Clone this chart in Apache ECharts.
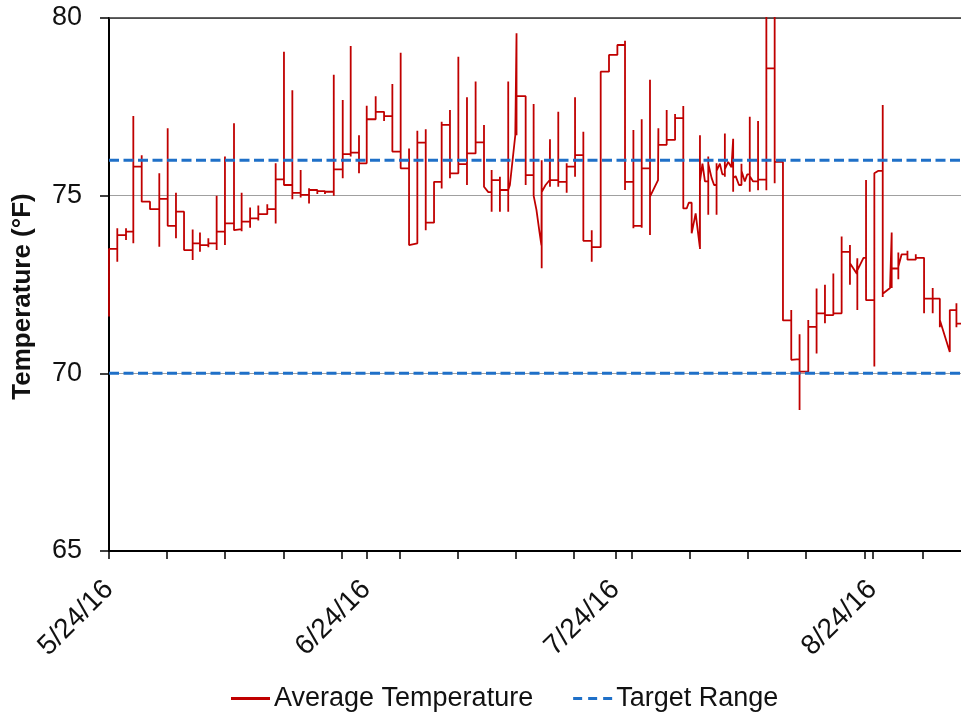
<!DOCTYPE html>
<html><head><meta charset="utf-8">
<script src="https://cdn.jsdelivr.net/npm/echarts@6/dist/echarts.min.js"></script>
<style>html,body{margin:0;padding:0;background:#fff}#c{width:961px;height:719px}</style>
</head><body><div id="c"></div>
<script>
// ---- data (x = days since 5/24/16) ----
const startDate = [2016, 5, 24];
const xMaxDay = 102.65;
const yMin = 65, yMax = 80, yStep = 5;
const weeklyTickDays = [0, 7, 14, 21, 28, 35, 42, 49, 56, 63, 70, 77, 84, 91, 98];
const monthTickDays = [0, 31, 61, 92];
const targetLow = 70, targetHigh = 76;

// rows: [day, spikeHigh, spikeLow, newLevel]  or  [day, value] (plain vertex)
const stepsMay = [
  [0, null, 71.6, 73.5], [1.0, 74.08, 73.14, 73.89], [2.05, 74.08, 73.75, 73.99],
  [2.93, 77.24, 73.66, 75.82], [3.94, 76.14, 74.83, 74.83], [4.94, null, null, 74.62],
  [6.06, 75.63, 73.56, 74.91], [7.07, 76.9, 74.15, 74.15]
];
const stepsJun = [
  [8.07, 75.08, 73.8, 74.55], [9.04, null, null, 73.47], [10.08, 74.05, 73.19, 73.66],
  [10.96, 73.96, 73.42, 73.61], [11.97, 73.8, 73.55, 73.66], [12.97, 75.0, 73.47, 73.99],
  [13.97, 76.1, 73.61, 74.22], [15.06, 77.04, 74.03, 74.06], [15.98, 75.08, 74.0, 74.27],
  [17.0, 74.67, 74.1, 74.36], [17.99, 74.72, 74.3, 74.48], [19.07, 74.76, 74.5, 74.62],
  [20.08, 75.91, 74.22, 75.46], [21.08, 79.05, 75.3, 75.3], [22.09, 77.97, 74.9, 75.08],
  [23.09, 75.72, 74.95, 75.02], [24.1, 75.21, 74.78, 75.16], [25.1, 75.2, 75.05, 75.13],
  [26.02, 75.15, 75.05, 75.11], [27.08, 78.4, 75.0, 75.74], [28.16, 77.69, 75.49, 76.17],
  [29.12, 79.21, 76.1, 76.21], [30.12, 76.7, 75.63, 75.91], [31.05, 77.53, 75.91, 77.15],
  [32.13, 77.8, 77.15, 77.36], [33.14, 77.4, 77.1, 77.24], [34.14, 78.14, 76.24, 76.24],
  [35.14, 79.02, 75.77, 75.77], [36.15, 76.33, 73.61, 73.66], [37.15, 76.83, 73.66, 76.49]
];
const stepsJul = [
  [38.16, 76.87, 74.03, 74.24], [39.16, null, null, 75.39], [40.08, 77.08, 75.2, 76.99],
  [41.08, 77.41, 75.49, 75.63], [42.09, 78.91, 75.63, 75.89], [43.13, 77.77, 75.3, 76.19],
  [44.17, 78.21, 76.19, 76.5], [45.18, 76.99, 75.25, 75.25], [45.7, 75.1],
  [46.1, 75.72, 74.55, 75.44], [47.1, 75.53, 74.55, 75.16],
  [48.1, 78.21, 74.55, 75.16], [48.3, 75.3], [48.95, 76.7],
  [49.1, 79.57, 76.7, 77.8], [50.2, null, 75.3, 75.58],
  [51.16, 77.58, 75.3, 75.0], [51.5, 74.6], [51.85, 74.0], [52.1, 73.6],
  [52.13, 76.0, 72.96, 75.1], [52.6, 75.3], [53.1, 75.44],
  [53.13, 76.59, 75.25, 75.44], [54.13, 77.36, 75.25, 75.39], [55.14, 75.91, 75.08, 75.82],
  [56.15, 77.77, 75.53, 76.14], [57.15, 76.8, null, 73.73], [58.16, 74.03, 73.14, 73.55],
  [59.24, 78.49, null, 78.49], [60.24, null, null, 78.96], [61.25, null, null, 79.24],
  [62.17, 79.36, 75.16, 75.39], [63.18, 76.85, 74.08, 74.15], [64.18, 77.15, 74.1, 75.77],
  [65.18, 78.26, 73.89, 74.97], [66.15, 75.44],
  [66.19, 76.9, null, 76.43], [67.19, 77.41, null, 76.57], [68.2, 77.3, null, 77.18]
];
const stepsAug = [
  [69.19, 77.52, null, 74.64], [69.6, 74.64], [69.85, 74.8],
  [70.2, 74.8, null, 73.94], [70.68, 74.5], [71.18, 73.56],
  [71.2, 76.7, 73.5, 75.4], [71.5, 75.9], [71.8, 75.4],
  [72.2, 76.1, 74.46, 75.9], [72.6, 75.5], [72.9, 75.3],
  [73.2, 75.91, 74.46, 75.7], [73.6, 75.9], [73.9, 75.6],
  [74.2, 76.75, 75.53, 75.75], [74.6, 75.95], [75.0, 75.8],
  [75.2, 76.6, 75.11, 75.5], [75.5, 75.55], [75.9, 75.3],
  [76.2, 75.9, 75.3, 75.7], [76.6, 75.4], [76.9, 75.6],
  [77.2, 77.22, 75.11, 75.55], [77.6, 75.4],
  [78.2, 77.1, 75.15, 75.45], [79.2, 81, 75.15, 78.58], [80.2, 81, 75.35, 75.95],
  [81.2, null, null, 71.49], [82.2, 71.78, 70.38, 70.4], [83.2, 71.1, 68.97, 70.05],
  [84.25, 71.5, 70.56, 71.31], [85.25, 72.39, 70.56, 71.69], [86.26, 72.49, 71.41, 71.64],
  [87.27, 72.81, null, 71.69], [88.27, 73.85, null, 73.42],
  [89.27, 73.61, 72.49, 73.1], [90.1, 72.8],
  [90.16, 73.24, 71.78, 72.9], [90.9, 73.25],
  [91.21, 75.44, 72.06, 72.06], [92.21, 75.63, 70.19, 75.63], [92.7, 75.7],
  [93.22, 77.55, 72.15, 72.24], [94.1, 72.4],
  [94.3, 73.96, 72.4, 72.95], [95.1, 73.4, 72.65, 73.0], [95.5, 73.35],
  [96.2, 73.45, null, 73.2], [97.2, 73.35, null, 73.25],
  [98.2, null, 71.69, 72.1], [99.24, 72.4, 71.69, 72.1],
  [100.1, null, 71.3, 71.5], [101.3, 70.6],
  [101.3, 71.78, null, 71.78], [102.1, 71.97, 71.3, 71.4], [102.8, 71.4]
];

// ---- build the polyline from the rows ----
function buildPath(rows) {
  const pts = []; let last = null;
  rows.forEach(r => {
    if (r.length === 2) { pts.push([r[0], r[1]]); last = r[1]; return; }
    const [d, hi, lo, lv] = r;
    if (last !== null) pts.push([d, last]);
    if (hi !== null) pts.push([d, hi]);
    if (lo !== null) pts.push([d, lo]);
    pts.push([d, lv]); last = lv;
  });
  return pts;
}
const tempPoints = buildPath([].concat(stepsMay, stepsJun, stepsJul, stepsAug));

function dayLabel(d) {
  const dt = new Date(startDate[0], startDate[1] - 1, startDate[2] + Math.round(d));
  return (dt.getMonth() + 1) + '/' + dt.getDate() + '/' + String(dt.getFullYear()).slice(2);
}

const FONT = '"Liberation Sans", Arial, sans-serif';
const RED = '#c00000', BLUE = '#1f70c8';
const chart = echarts.init(document.getElementById('c'), null, {renderer: 'canvas'});
chart.setOption({
  animation: false,
  backgroundColor: '#fff',
  grid: {left: 109, right: 0, top: 18, bottom: 168, outerBoundsMode: 'none', containLabel: false},
  xAxis: [{
    type: 'value', min: 0, max: xMaxDay,
    axisLine: {show: true, onZero: false, lineStyle: {color: '#000', width: 2}},
    axisTick: {show: true, customValues: weeklyTickDays.concat(monthTickDays), length: 8, lineStyle: {color: '#000', width: 1.5}},
    axisLabel: {customValues: monthTickDays, formatter: v => dayLabel(v), rotate: 45, fontSize: 28, color: '#111', fontFamily: FONT, margin: 34},
    splitLine: {show: false}
  }, {
    type: 'value', position: 'top', min: 0, max: xMaxDay,
    axisLine: {show: true, onZero: false, lineStyle: {color: '#333', width: 1.5}},
    axisTick: {show: false}, axisLabel: {show: false}, splitLine: {show: false}
  }],
  yAxis: {
    type: 'value', min: yMin, max: yMax, interval: yStep,
    name: 'Temperature (°F)', nameLocation: 'middle', nameRotate: 90, nameGap: 73,
    nameTextStyle: {fontSize: 26, fontWeight: 'bold', color: '#111', fontFamily: FONT, padding: [0, 24, 0, 0]},
    axisLine: {show: true, lineStyle: {color: '#000', width: 2}},
    axisTick: {show: true, length: 9, lineStyle: {color: '#000', width: 1.5}},
    axisLabel: {fontSize: 27, color: '#111', fontFamily: FONT, margin: 27},
    splitLine: {show: true, lineStyle: {color: '#a0a0a0', width: 1}}
  },
  legend: {
    left: 231, top: 685, padding: 0, itemWidth: 39, itemHeight: 3, itemGap: 40,
    textStyle: {fontSize: 27, color: '#111', fontFamily: FONT, padding: [0, 0, 0, -1]},
    data: [
      {name: 'Average Temperature', icon: 'rect'},
      {name: 'Target Range', icon: 'path://M0,0h9v3h-9z M15,0h9v3h-9z M30,0h9v3h-9z'}
    ]
  },
  series: [{
    name: 'Average Temperature', type: 'line', data: tempPoints, symbol: 'none',
    lineStyle: {color: RED, width: 1.8}, itemStyle: {color: RED}, z: 3
  }, {
    name: 'Target Range', type: 'line', data: [[0, targetHigh], [xMaxDay, targetHigh]], symbol: 'none',
    lineStyle: {color: BLUE, width: 3, type: [10, 4.5]}, itemStyle: {color: BLUE}, z: 4
  }, {
    name: 'Target Range', type: 'line', data: [[0, targetLow], [xMaxDay, targetLow]], symbol: 'none',
    lineStyle: {color: BLUE, width: 3, type: [10, 4.5]}, itemStyle: {color: BLUE}, z: 4
  }]
});
</script></body></html>
